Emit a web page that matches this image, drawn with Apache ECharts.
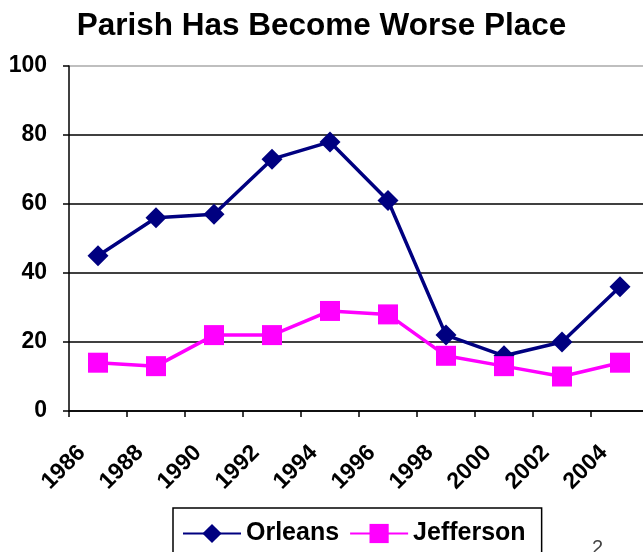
<!DOCTYPE html>
<html>
<head>
<meta charset="utf-8">
<script src="https://cdn.jsdelivr.net/npm/echarts@6/dist/echarts.min.js"></script>
<style>
  html, body { margin: 0; padding: 0; background: #fff; }
  #chart { width: 643px; height: 552px; }
</style>
</head>
<body>
<div id="chart"></div>
<script>
// year labels (one per category)
const years = ['1986', '1988', '1990', '1992', '1994', '1996', '1998', '2000', '2002', '2004']
const orleans = [45, 56, 57, 73, 78, 61, 22, 16, 20, 36]
const jefferson = [14, 13, 22, 22, 29, 28, 16, 13, 10, 14]

const font = '"Liberation Sans", Arial, sans-serif'

let myChart = echarts.init(document.getElementById('chart'))
myChart.setOption({
  animation: false,
  title: {
    text: 'Parish Has Become Worse Place',
    left: 'center',
    top: 5,
    textStyle: { fontFamily: font, fontSize: 31.5, fontWeight: 'bold', color: '#000' }
  },
  legend: {
    left: 173,
    top: 508,
    padding: [13, 16, 30, 9],
    borderColor: '#000',
    borderWidth: 1.5,
    itemWidth: 58,
    itemHeight: 24,
    itemGap: 10,
    textStyle: { fontFamily: font, fontSize: 25, fontWeight: 'bold', color: '#000' },
    data: ['Orleans', 'Jefferson']
  },
  grid: { left: 69, width: 580, top: 66, bottom: 141, outerBoundsMode: 'none' },
  xAxis: {
    type: 'category',
    data: years,
    boundaryGap: true,
    axisLine: { lineStyle: { color: '#000', width: 1.5 } },
    axisTick: { show: true, length: 6, lineStyle: { color: '#000', width: 1.5 } },
    axisLabel: {
      rotate: 45,
      margin: 22,
      padding: [0, 23, 0, 0],
      fontFamily: font, fontSize: 23, fontWeight: 'bold', color: '#000'
    }
  },
  yAxis: {
    type: 'value',
    min: 0,
    max: 100,
    interval: 20,
    axisLine: { show: true, lineStyle: { color: '#000', width: 1.5 } },
    axisTick: { show: true, length: 6, lineStyle: { color: '#000', width: 1.5 } },
    axisLabel: { margin: 22, fontFamily: font, fontSize: 23, fontWeight: 'bold', color: '#000' },
    splitLine: {
      lineStyle: { color: ['#000', '#000', '#000', '#000', '#000', '#aaa'], width: 1.5 }
    }
  },
  series: [
    {
      name: 'Orleans',
      type: 'line',
      data: orleans,
      symbol: 'diamond',
      symbolSize: 21,
      lineStyle: { color: '#000080', width: 3.5 },
      itemStyle: { color: '#000080' }
    },
    {
      name: 'Jefferson',
      type: 'line',
      data: jefferson,
      symbol: 'rect',
      symbolSize: 20,
      lineStyle: { color: '#ff00ff', width: 3.5 },
      itemStyle: { color: '#ff00ff' }
    }
  ],
  graphic: [
    {
      type: 'text',
      left: 592,
      top: 538,
      style: { text: '2', fontFamily: font, fontSize: 20, fill: '#444' }
    }
  ]
})
</script>
</body>
</html>
